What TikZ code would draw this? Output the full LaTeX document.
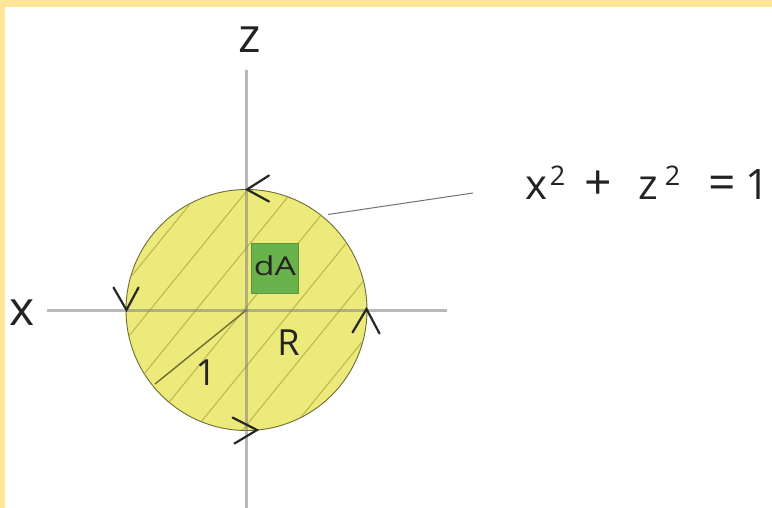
\documentclass[tikz,border=0pt]{standalone}
\usepackage{fontspec}
\setmainfont{Open Sans}
\definecolor{frameyellow}{RGB}{255,229,152}
\definecolor{diskfill}{RGB}{236,234,122}
\definecolor{diskline}{RGB}{110,108,50}
\definecolor{hatchcol}{RGB}{185,182,80}
\definecolor{dagreen}{RGB}{106,178,76}
\definecolor{dagreenline}{RGB}{90,150,60}
\definecolor{textcol}{RGB}{35,35,35}
\tikzset{
  axisline/.style={draw=black!50, opacity=0.55, line width=2.4pt},
  hatchline/.style={draw=hatchcol, line width=1pt},
  chevron/.style={draw=black!85, line width=2.2pt, line cap=round, line join=miter},
  lbl/.style={text=textcol, inner sep=0pt, anchor=base},
  eqbig/.style={lbl, font=\fontsize{42}{44}\selectfont},
  eqsym/.style={lbl, font=\fontsize{48}{50}\selectfont},
  eqsup/.style={lbl, font=\fontsize{27}{29}\selectfont},
}
\begin{document}
\begin{tikzpicture}[x=1pt,y=-1pt]
\useasboundingbox (0,0) rectangle (772,508);
\fill[white] (0,0) rectangle (772,508);
\fill[frameyellow] (0,0) rectangle (772,7);
\fill[frameyellow] (0,0) rectangle (5,508);

% disk
\node[circle, draw=diskline, line width=0.9pt, fill=diskfill, minimum size=241pt, inner sep=0pt] (disk) at (246.5,310) {};

% hatching
\begin{scope}
  \clip (246.5,310) circle[radius=120pt];
  \foreach \c in {104,150,196,244,292,340,388}
    \draw[hatchline] (\c-160,310+197) -- (\c+160,310-197);
\end{scope}

% axes
\coordinate (zbot) at (246.5,508);
\coordinate (ztop) at (246.5,70);
\coordinate (xleft) at (47,310.5);
\coordinate (xright) at (447,310.5);
\draw[axisline] (ztop) -- (zbot);
\draw[axisline] (xleft) -- (xright);

% radius line
\coordinate (rend) at (155,384);
\draw[draw=diskline, line width=1.4pt] (disk.center) -- (rend);

% dA element
\node[draw=dagreenline, line width=0.6pt, fill=dagreen, minimum width=47pt, minimum height=50.5pt, inner sep=0pt] (dA) at (275,268.25) {};
\node[lbl, xscale=1.3, font=\fontsize{26}{28}\selectfont] (dAtext) at (275,276) {dA};

% orientation chevrons
\draw[chevron] (269,175.5) -- (247,189.5) -- (269,201.5);
\draw[chevron] (113.5,287.5) -- (126.5,310) -- (138.5,287.5);
\draw[chevron] (232.5,417.5) -- (257,430) -- (234.5,443.5);
\draw[chevron] (352.5,332.5) -- (366.5,309) -- (379.5,333.5);

% labels
\node[lbl, font=\fontsize{48}{50}\selectfont] (zlab) at (250,53) {z};
\node[lbl, font=\fontsize{48}{50}\selectfont] (xlab) at (22.5,325) {x};
\node[lbl, font=\fontsize{36}{38}\selectfont] (Rlab) at (288.5,355) {R};
\node[lbl, font=\fontsize{36}{38}\selectfont] (onelab) at (206,385) {1};

% equation and leader
\node[eqbig] (eqx) at (536.5,200) {x};
\node[eqsup] (eqxs) at (557.5,186) {2};
\node[eqsym] (eqplus) at (598,200) {+};
\node[eqbig] (eqz) at (648.5,200) {z};
\node[eqsup] (eqzs) at (672.5,186) {2};
\node[eqsym] (eqeq) at (722,200) {=};
\node[eqbig] (eqone) at (757.5,200) {1};
\coordinate (leadstart) at (328,214.5);
\coordinate (leadend) at (473,193);
\draw[draw=black!55, line width=1pt] (leadstart) -- (leadend);
\end{tikzpicture}
\end{document}
